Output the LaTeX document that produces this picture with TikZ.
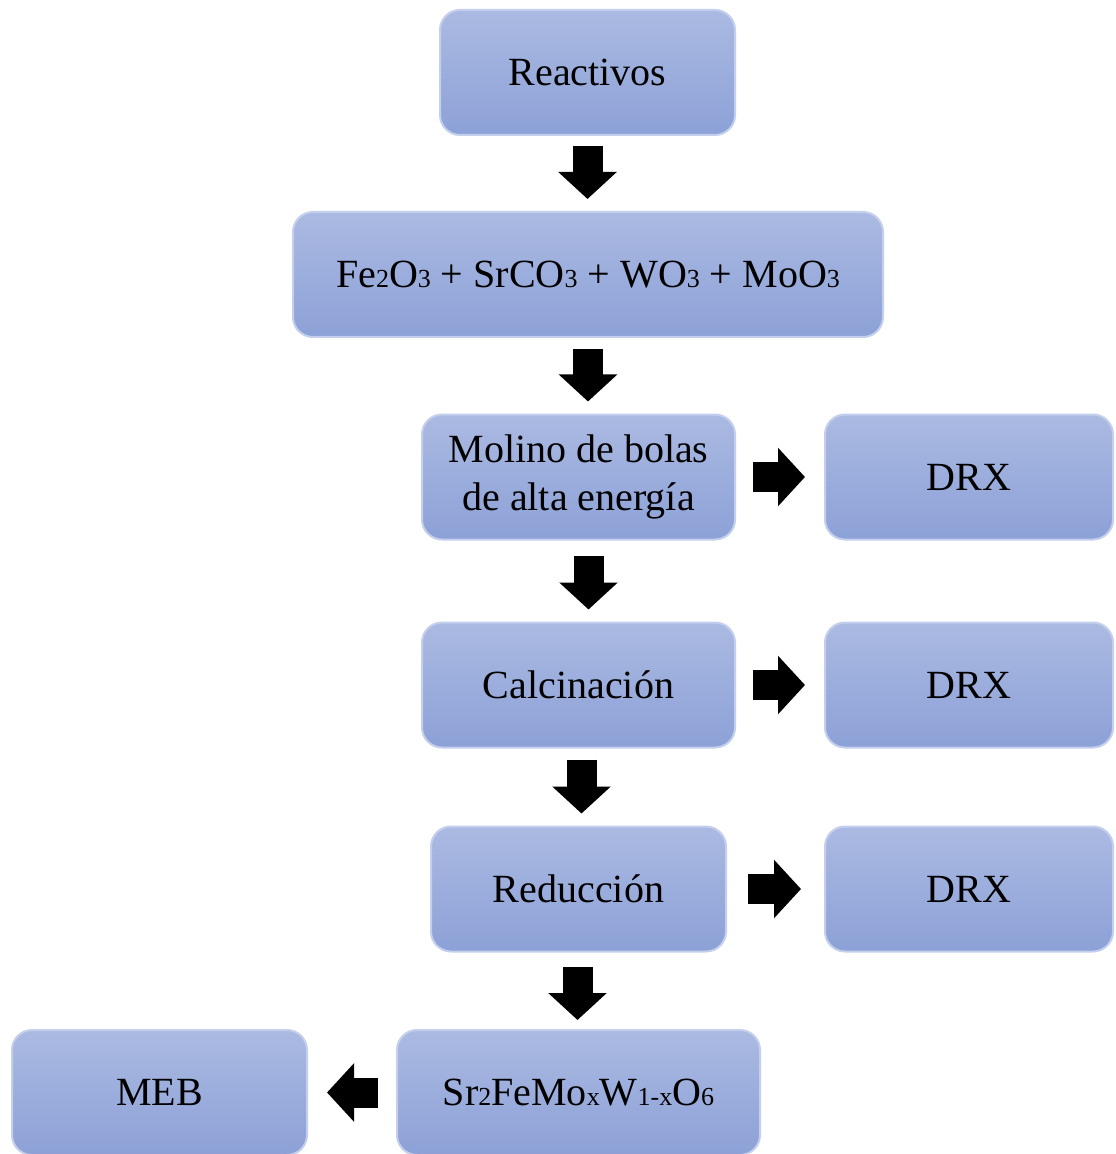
\documentclass[tikz,border=0pt]{standalone}
\usepackage{fontspec}
\setmainfont{Liberation Serif}
\usetikzlibrary{arrows.meta}
\definecolor{cajaarriba}{RGB}{171,186,226}
\definecolor{cajaabajo}{RGB}{140,161,215}
\definecolor{cajaborde}{RGB}{196,207,238}
\newcommand{\chico}[1]{{\fontsize{13}{13}\selectfont #1}}
\tikzset{
  caja/.style={rectangle, rounded corners=10pt, top color=cajaarriba, bottom color=cajaabajo,
    draw=cajaborde, line width=1pt, minimum height=62.5pt, align=center,
    font=\fontsize{20}{24}\selectfont},
  flecha/.style={line width=15pt, -{Triangle[length=13.5pt,width=28.5pt]}}
}
\begin{document}
\begin{tikzpicture}
	[x=0.5pt, y=-0.5pt]
	\useasboundingbox (0,0) rectangle (1115,1154);
	\node[caja, minimum width=147.5pt] (rea) at (587.5,72.5) {Reactivos};
	\node[caja, minimum width=295pt] (fe) at (588,274.5) {Fe\chico{2}O\chico{3} + SrCO\chico{3} + WO\chico{3} + MoO\chico{3}};
	\node[caja, minimum width=156.5pt] (mol) at (578.5,477) {Molino de bolas\\de alta energía};
	\node[caja, minimum width=156.5pt] (cal) at (578.5,685) {Calcinación};
	\node[caja, minimum width=147.5pt] (red) at (578.5,889) {Reducción};
	\node[caja, minimum width=181.5pt] (sr) at (578.5,1092.5) {Sr\chico{2}FeMo\chico{x}W\chico{1-x}O\chico{6}};
	\node[caja, minimum width=147.5pt] (meb) at (159.5,1092.5) {MEB};
	\node[caja, minimum width=144pt] (drxa) at (969,477) {DRX};
	\node[caja, minimum width=144pt] (drxb) at (969,685) {DRX};
	\node[caja, minimum width=144pt] (drxc) at (969,889) {DRX};
	% flechas hacia abajo
	\draw[flecha, shorten <=5pt, shorten >=6pt] (rea.south) -- (rea.south |- fe.north);
	\draw[flecha, shorten <=5.5pt, shorten >=6pt] (fe.south) -- (fe.south |- mol.north);
	\draw[flecha, shorten <=7.5pt, shorten >=6pt] ([xshift=5pt]mol.south) -- ([xshift=5pt]cal.north);
	\draw[flecha, shorten <=5.5pt, shorten >=6pt] ([xshift=1.5pt]cal.south) -- ([xshift=1.5pt]red.north);
	\draw[flecha, shorten <=7pt, shorten >=4.5pt] ([xshift=-0.5pt]red.south) -- ([xshift=-0.5pt]sr.north);
	% flechas laterales
	\draw[flecha, shorten <=8.5pt, shorten >=9.5pt] (mol) -- (drxa);
	\draw[flecha, shorten <=8.5pt, shorten >=9.5pt] (cal) -- (drxb);
	\draw[flecha, shorten <=10.5pt, shorten >=11.5pt] (red) -- (drxc);
	\draw[flecha, shorten <=9pt, shorten >=9.5pt] (sr) -- (meb);
\end{tikzpicture}
\end{document}
